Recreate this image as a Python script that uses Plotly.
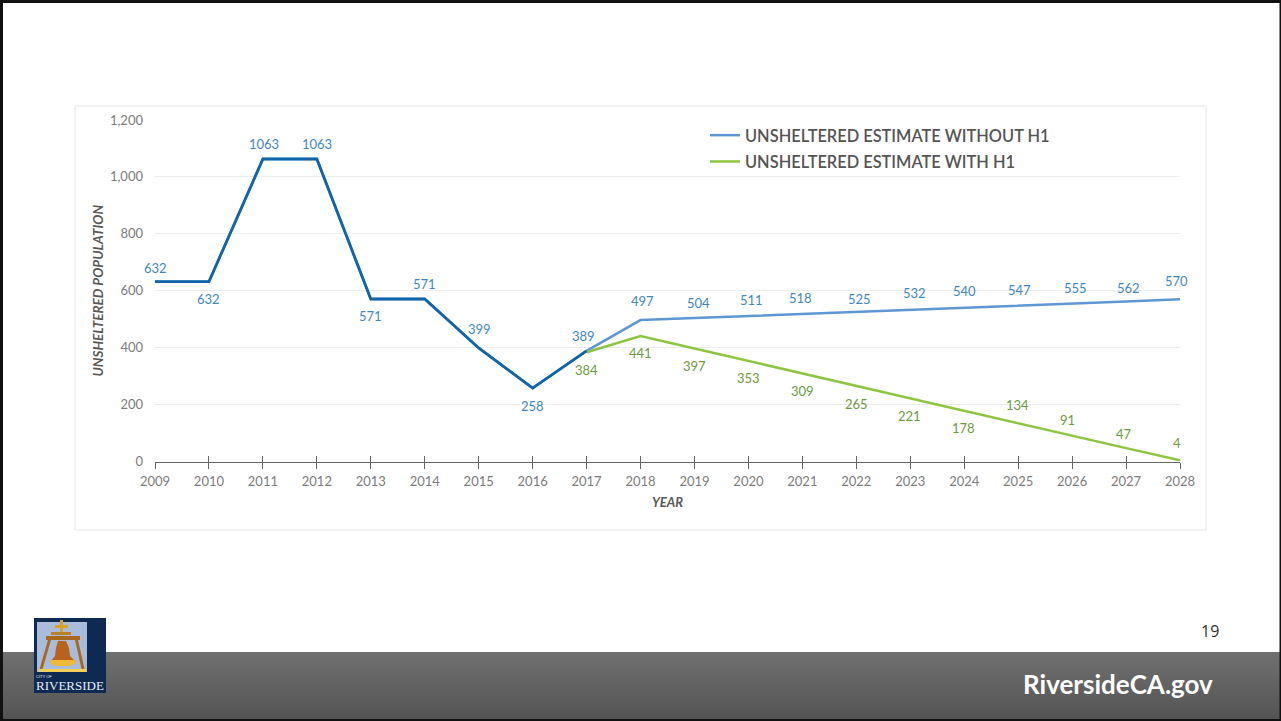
import plotly.graph_objects as go

W, H = 1281, 721
years = list(range(2009, 2029))
tick_labels = [str(y) for y in years]
without_h1 = [632, 632, 1063, 1063, 571, 571, 399, 258, 389, 497, 504, 511, 518, 525, 532, 540, 547, 555, 562, 570]
with_h1_years = list(range(2017, 2029))
with_h1 = [384, 441, 397, 353, 309, 265, 221, 178, 134, 91, 47, 4]
history_count = 9  # 2009-2017 drawn in the darker blue

blue_offsets = [(0, 14), (0, -17), (1, 15), (0, 15), (0, -17), (0, 15), (1, 19), (0, -18), (-3, 15), (2, 19),
                (4, 15), (3, 16), (-2, 16), (3, 13), (4, 17), (0, 17), (1, 16), (3, 16), (2, 14), (-4, 18)]
green_offsets = [(0, -18), (0, -17), (0, -17), (0, -17), (0, -17), (0, -18), (-1, -17), (-1, -17),
                 (-1, 18), (-5, 16), (-2, 14), (-3, 17)]

DARK = "#0f64ab"
LIGHT = "#5f97d2"
GREEN = "#8cc63f"
BLUE_TXT = "#3f87c4"
GREEN_TXT = "#6c9a40"
GRAY = "#7c7c7c"
FONT = "Lato"


def px(x):
    return x / W


def py(y):
    return 1 - y / H


def rect(x0, y0, x1, y1, fill, line=None, layer="below"):
    return dict(type="rect", xref="paper", yref="paper", x0=px(x0), x1=px(x1), y0=py(y0), y1=py(y1),
                fillcolor=fill, line=dict(color=line or fill, width=1 if line else 0), layer=layer)


def path(points, fill, layer="above"):
    d = "M" + " L".join(f"{px(a):.5f},{py(b):.5f}" for a, b in points) + " Z"
    return dict(type="path", xref="paper", yref="paper", path=d, fillcolor=fill, line=dict(width=0), layer=layer)


def note(x, y, text, family, size, color):
    return dict(x=px(x), y=py(y), xref="paper", yref="paper", xanchor="center", yanchor="middle", text=text,
                showarrow=False, font=dict(family=family, size=size, color=color))


shapes = []
# chart card
shapes.append(rect(75, 106, 1206, 530, "#ffffff", "#e6e6e6"))
# footer gradient
top, bottom = (112, 112, 112), (84, 84, 84)
for i in range(652, 719):
    t = (i - 652) / 66
    c = tuple(round(top[k] + (bottom[k] - top[k]) * t) for k in range(3))
    shapes.append(rect(0, i, W, i + 1.2, "rgb(%d,%d,%d)" % c))
# slide frame
shapes += [rect(0, 0, W, 3, "#111111", layer="above"), rect(0, 719, W, H, "#111111", layer="above"),
           rect(0, 0, 3, H, "#111111", layer="above"), rect(1279.5, 0, W, H, "#111111", layer="above")]
# logo
shapes.append(rect(34, 618, 106, 693, "#0e2a52", layer="above"))
shapes.append(rect(37, 622, 87, 672, "#a9bcd9", layer="above"))
shapes.append(path([(60, 620), (63, 620), (63, 625), (68, 625), (68, 628), (63, 628), (63, 632), (60, 632), (60, 628), (55, 628), (55, 625), (60, 625)], "#d9a02c"))
shapes.append(path([(51, 632), (71, 632), (71, 635), (51, 635)], "#b9822a"))
shapes.append(path([(46, 636), (80, 636), (80, 640), (46, 640)], "#a8691e"))
shapes.append(path([(48, 640), (51, 640), (42, 671), (39, 671)], "#a8691e"))
shapes.append(path([(75, 640), (78, 640), (85, 671), (82, 671)], "#a8691e"))
shapes.append(path([(58, 641), (66, 641), (69, 648), (70, 656), (76, 662), (50, 662), (55, 656), (56, 648)], "#b8621b"))
shapes.append(path([(50, 660), (76, 660), (75, 664), (69, 666), (56, 666), (51, 664)], "#f0b93a"))
shapes.append(path([(39, 669), (86, 669), (86, 672), (39, 672)], "#f2cf55"))

annotations = []
for yr, v, (dx, dy) in zip(years, without_h1, blue_offsets):
    annotations.append(dict(x=yr, y=v, xref="x", yref="y", text=str(v), showarrow=False, xshift=dx, yshift=dy,
                            font=dict(family=FONT, size=13, color=BLUE_TXT)))
for yr, v, (dx, dy) in zip(with_h1_years, with_h1, green_offsets):
    annotations.append(dict(x=yr, y=v, xref="x", yref="y", text=str(v), showarrow=False, xshift=dx, yshift=dy,
                            font=dict(family=FONT, size=13, color=GREEN_TXT)))
annotations += [
    note(1210, 631, "19", "Open Sans", 16, "#333333"),
    note(1117.5, 684, "<b>RiversideCA.gov</b>", FONT, 26, "#ffffff"),
    note(70, 685.5, "RIVERSIDE", "Liberation Serif", 13, "#e8edf4"),
    note(44, 676.5, "CITY OF", "Liberation Sans", 4, "#e8edf4"),
]

fig = go.Figure()
fig.add_trace(go.Scatter(x=years, y=without_h1, mode="lines", name="UNSHELTERED ESTIMATE WITHOUT H1",
                         legendgroup="a", line=dict(color=LIGHT, width=2.5), cliponaxis=False))
fig.add_trace(go.Scatter(x=with_h1_years, y=with_h1, mode="lines", name="UNSHELTERED ESTIMATE WITH H1",
                         legendgroup="b", line=dict(color=GREEN, width=2.5), cliponaxis=False))
fig.add_trace(go.Scatter(x=years[:history_count], y=without_h1[:history_count], mode="lines", showlegend=False,
                         line=dict(color=DARK, width=2.8), cliponaxis=False))
# carries the upper half of the tick marks that straddle the zero line
fig.add_trace(go.Scatter(x=years, y=[None] * len(years), xaxis="x2", mode="lines", showlegend=False, hoverinfo="skip"))

x_dom = [px(155), px(1180)]
y_dom = [py(461.5), py(120)]
fig.update_layout(
    width=W, height=H, margin=dict(l=0, r=0, t=0, b=0, autoexpand=False), paper_bgcolor="#ffffff",
    plot_bgcolor="rgba(0,0,0,0)",
    shapes=shapes, annotations=annotations,
    legend=dict(x=px(705), y=py(118), xanchor="left", yanchor="top", bgcolor="rgba(0,0,0,0)", itemwidth=30,
                tracegroupgap=2, font=dict(family=FONT, size=16.4, color="#555555", weight=600)),
    xaxis=dict(domain=x_dom, range=[2009, 2028], tickmode="array", tickvals=years, ticktext=tick_labels,
               ticks="outside", ticklen=6, tickcolor="#666666", showline=True, linecolor="#666666", linewidth=1.2,
               showgrid=False, zeroline=False, tickfont=dict(family=FONT, size=13, color=GRAY), anchor="y",
               automargin=False, ticklabelstandoff=2,
               title=dict(text="<b><i>YEAR</i></b>", standoff=9, font=dict(family=FONT, size=13, color="#595959"))),
    xaxis2=dict(domain=x_dom, range=[2009, 2028], overlaying="x", anchor="y", side="bottom", tickmode="array",
                tickvals=years, ticktext=[""] * len(years), ticks="inside", ticklen=6, tickcolor="#666666",
                showline=False, showgrid=False, zeroline=False, automargin=False),
    yaxis=dict(domain=y_dom, range=[0, 1200], tickmode="array", tickvals=[0, 200, 400, 600, 800, 1000, 1200],
               ticktext=["0", "200", "400", "600", "800", "1,000", "1,200"], ticks="", gridcolor="#ececec",
               gridwidth=1, zeroline=False, showline=False, ticklabelstandoff=11, automargin=False,
               tickfont=dict(family=FONT, size=13, color=GRAY),
               title=dict(text="<b><i>UNSHELTERED POPULATION</i></b>", standoff=3,
                          font=dict(family=FONT, size=13.5, color="#595959"))),
)
fig.write_html("out.html", config={"displayModeBar": False},
               post_script="document.body.style.margin='0';document.documentElement.style.overflow='hidden';")
